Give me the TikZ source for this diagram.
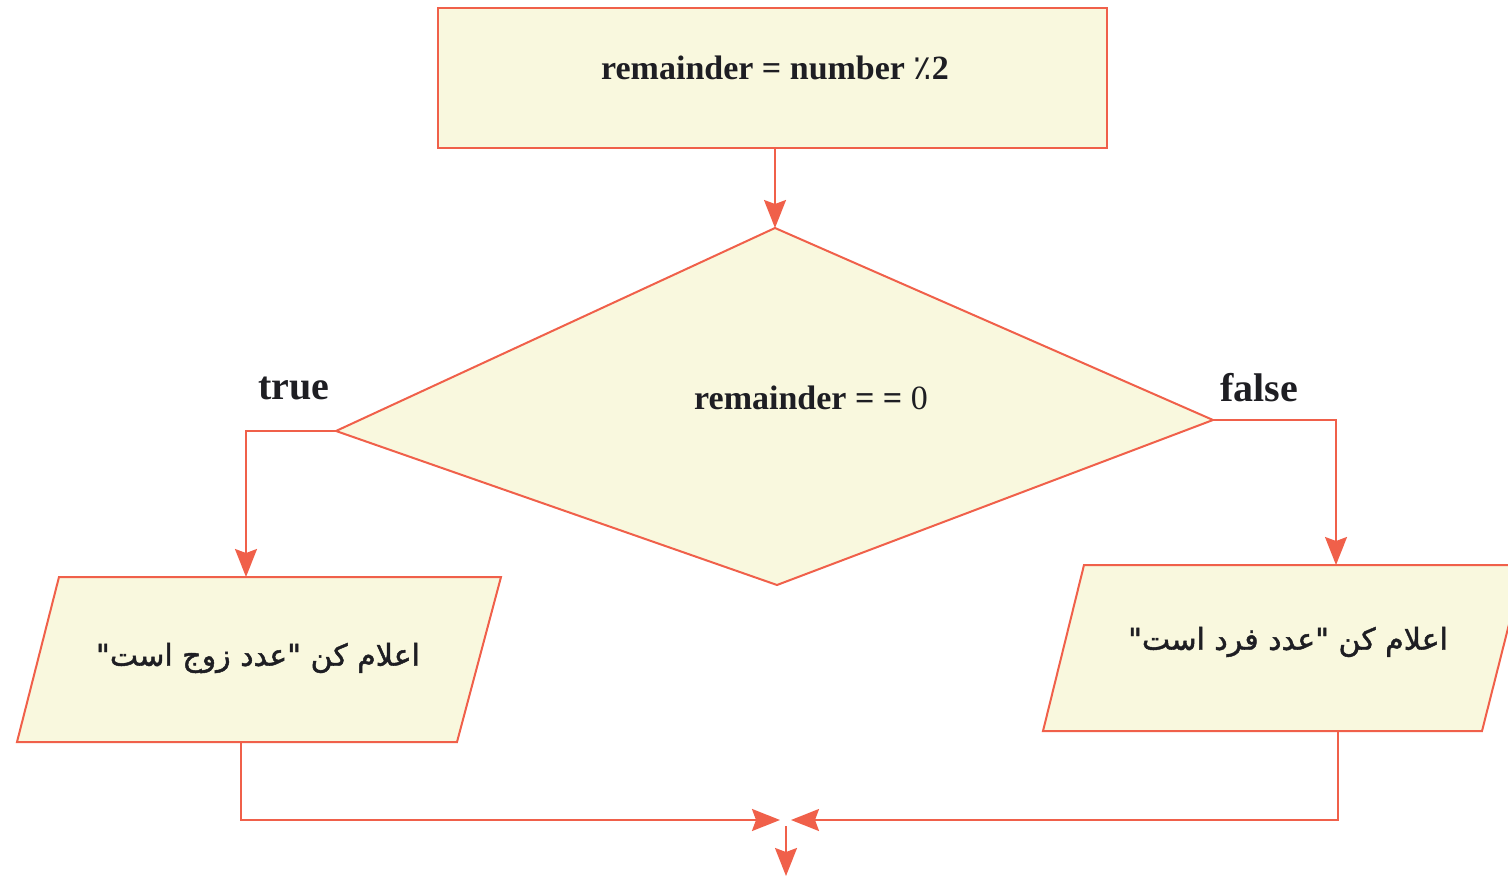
\documentclass[tikz,border=0pt]{standalone}
\usepackage{fontspec}
\setmainfont{Liberation Serif}
\newfontfamily\arabicfont[Script=Arabic, FakeBold=1.5]{DejaVu Sans}
\newfontfamily\symfont{DejaVu Sans}
\TeXXeTstate=1
\usetikzlibrary{arrows.meta}
\definecolor{edge}{RGB}{240,96,74}
\definecolor{boxfill}{RGB}{249,248,222}
\definecolor{ink}{RGB}{30,30,35}
\tikzset{
  shapeline/.style={draw=edge, line width=1pt, fill=boxfill, line join=miter},
  conn/.style={draw=edge, line width=1pt},
  arr/.style={conn, -{Stealth[length=14pt, width=11pt, inset=2pt]}},
  entext/.style={text=ink, font=\fontsize{17pt}{20pt}\selectfont\bfseries, inner sep=0pt},
  artext/.style={text=ink, font=\fontsize{15pt}{20pt}\selectfont\arabicfont, inner sep=0pt},
  lbl/.style={text=ink, font=\fontsize{20pt}{24pt}\selectfont\bfseries, inner sep=0pt},
}
\begin{document}
\begin{tikzpicture}[x=0.5pt, y=-0.5pt]
\useasboundingbox (0,0) rectangle (1508,876);

% process box
\node[shapeline, minimum width=334.5pt, minimum height=70pt, inner sep=0pt] (proc) at (772.5,78) {};
\node[entext] (proctext) at (775,68) {remainder = number {\mdseries\symfont ٪}2};

% decision diamond
\coordinate (dT) at (775,228);
\coordinate (dL) at (336,431);
\coordinate (dR) at (1213,420);
\coordinate (dB) at (777,585);
\path[shapeline] (dT) -- (dR) -- (dB) -- (dL) -- cycle;
\node[entext] (dectext) at (811,398) {remainder = = {\mdseries 0}};

% left output
\coordinate (lTL) at (59,577);
\coordinate (lTR) at (501,577);
\coordinate (lBR) at (457,742);
\coordinate (lBL) at (17,742);
\path[shapeline] (lTL) -- (lTR) -- (lBR) -- (lBL) -- cycle;
\node[artext] (lefttext) at (258,658) {\beginR اعلام کن "عدد زوج است"\endR};
\coordinate (lIn) at (246,577);
\coordinate (lOut) at (241,742);

% right output
\coordinate (rTL) at (1084,565);
\coordinate (rTR) at (1524,565);
\coordinate (rBR) at (1482,731);
\coordinate (rBL) at (1043,731);
\path[shapeline] (rTL) -- (rTR) -- (rBR) -- (rBL) -- cycle;
\node[artext] (righttext) at (1288,642) {\beginR اعلام کن "عدد فرد است"\endR};
\coordinate (rIn) at (1336,565);
\coordinate (rOut) at (1338,731);

% labels
\node[lbl] (true) at (294,388) {true};
\node[lbl] (false) at (1259,388) {false};

% join
\coordinate (jL) at (780,820);
\coordinate (jR) at (791,820);
\coordinate (jS) at (786,826);
\coordinate (jE) at (786,876);

% connectors
\draw[arr] (proc.south -| dT) -- (dT);
\draw[arr] (dL) -| (lIn);
\draw[arr] (dR) -| (rIn);
\draw[arr] (lOut) |- (jL);
\draw[arr] (rOut) |- (jR);
\draw[arr] (jS) -- (jE);
\end{tikzpicture}
\end{document}
